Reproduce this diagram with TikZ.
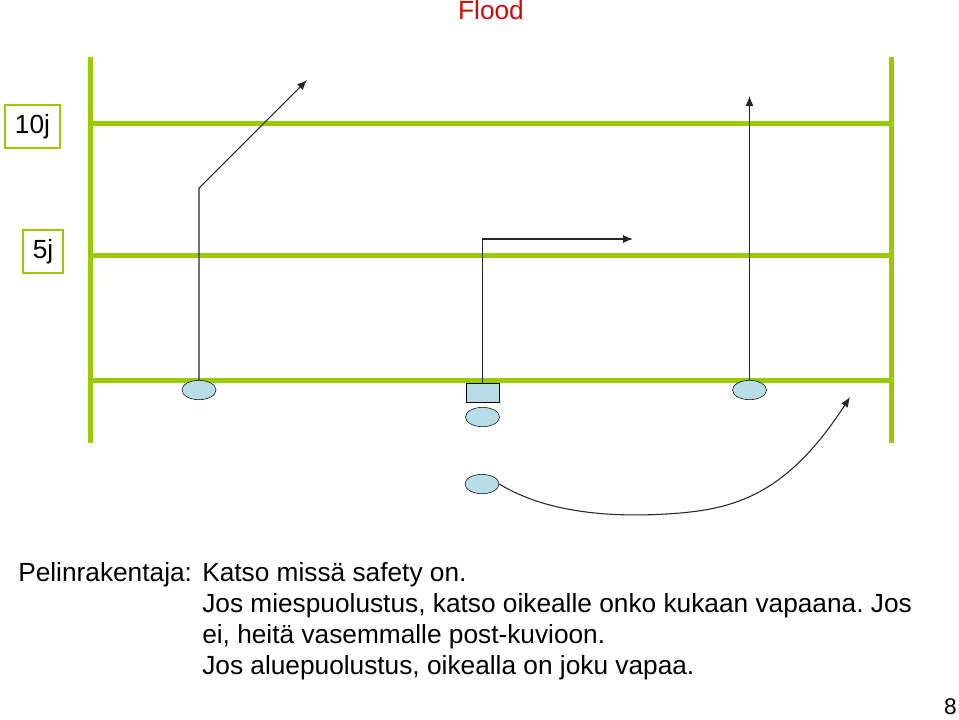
\documentclass[tikz,border=0pt]{standalone}
\usepackage{fontspec}
\setmainfont{Liberation Sans}
\usetikzlibrary{shapes.geometric,arrows.meta,positioning}
\definecolor{verde}{RGB}{153,204,0}
\definecolor{celeste}{RGB}{183,222,232}
\definecolor{rojo}{RGB}{210,10,10}
\frenchspacing

\begin{document}
\begin{tikzpicture}[x=0.75pt,y=-0.75pt,
  linea/.style={verde,line width=3.75pt},
  jugador/.style={ellipse,draw,thin,fill=celeste,minimum width=25.5pt,minimum height=14.5pt,inner sep=0pt},
  centro/.style={rectangle,draw,thin,fill=celeste,minimum width=24.75pt,minimum height=14.25pt,inner sep=0pt},
  caja/.style={rectangle,draw=verde,line width=1.2pt,minimum height=32pt,inner sep=0pt,font=\fontsize{19.7}{22}\selectfont},
  ruta/.style={black!85,line width=0.8pt,-{Latex[length=7.5pt,width=6pt]}},
  texto/.style={inner sep=0pt,font=\fontsize{19.7}{23.25}\selectfont}]
  \useasboundingbox (0,0) rectangle (959,719);

  % Titulo
  \node[texto,rojo,anchor=base] (titulo) at (491,19) {Flood};

  % Campo
  \draw[linea] (90,57) -- (90,443);
  \draw[linea] (891,57) -- (891,443);
  \foreach \y in {123,255,380}
    \draw[linea] (90,\y) -- (891,\y);

  % Distancias
  \node[caja,minimum width=41.25pt] (diez) at (32.5,126.5) {10j};
  \node[caja,minimum width=30pt] (cinco) at (43,251.5) {5j};

  % Jugadores
  \node[jugador] (j1) at (199,390) {};
  \node[centro] (c) at (482.5,392.5) {};
  \node[jugador] (qb) at (482.5,417) {};
  \node[jugador] (j3) at (749.5,390) {};
  \node[jugador] (j4) at (482,484) {};

  % Rutas
  \coordinate (k1) at (199,188);
  \coordinate (f1) at (307,80);
  \coordinate (k2) at (482.5,239);
  \coordinate (f2) at (633,239);
  \coordinate (f3) at (749.5,96);
  \coordinate (f4) at (850,397);
  \draw[ruta] (j1.north) -- (k1) -- (f1);
  \draw[ruta] (c.north) -- (k2) -- (f2);
  \draw[ruta] (j3.north) -- (f3);
  \draw[ruta] (j4.east) .. controls (550,515) and (620,518) .. (680,513)
    .. controls (740,508) and (790,490) .. (f4);

  % Texto
  \node[texto,anchor=base west] (rol) at (18,581) {Pelinrakentaja:};
  \node[texto,anchor=north west,align=left] (nota) at (202,562)
    {Katso missä safety on.\\
     Jos miespuolustus, katso oikealle onko kukaan vapaana. Jos\\
     ei, heitä vasemmalle post-kuvioon.\\
     Jos aluepuolustus, oikealla on joku vapaa.};
  \node[inner sep=0pt,font=\fontsize{17}{20}\selectfont,anchor=base] (sivu) at (950.5,714.5) {8};
\end{tikzpicture}
\end{document}
